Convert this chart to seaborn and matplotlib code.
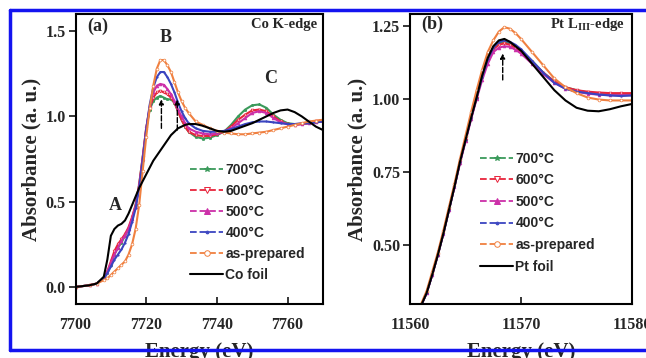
import matplotlib
matplotlib.use("Agg")
import matplotlib.pyplot as plt
import seaborn as sns
import pandas as pd
from matplotlib.lines import Line2D

sns.set_style("ticks")
plt.rcParams["font.family"] = ["Liberation Serif", "DejaVu Serif"]
plt.rcParams["font.weight"] = "bold"
plt.rcParams["mathtext.fontset"] = "custom"
plt.rcParams["mathtext.rm"] = "Liberation Serif:bold"
plt.rcParams["mathtext.bf"] = "Liberation Serif:bold"

# ---- panel (a): Co K-edge ----
co_energy = [7700, 7704, 7706, 7708, 7709, 7710, 7711, 7712, 7713, 7714, 7715, 7716,
             7717, 7718, 7719, 7720, 7721, 7722, 7723, 7724, 7725, 7726, 7727, 7728,
             7729, 7730, 7731, 7732, 7734, 7736, 7738, 7740, 7742, 7744, 7746, 7748,
             7750, 7752, 7754, 7756, 7758, 7760, 7762, 7764, 7766, 7768, 7770]
co_700 = [0.0, 0.01, 0.02, 0.05, 0.08, 0.13, 0.19, 0.23, 0.26, 0.30, 0.34, 0.40,
          0.48, 0.60, 0.76, 0.93, 1.04, 1.09, 1.11, 1.12, 1.11, 1.10, 1.10, 1.08,
          1.03, 0.98, 0.94, 0.91, 0.88, 0.87, 0.875, 0.89, 0.91, 0.95, 1.00, 1.04,
          1.065, 1.07, 1.05, 1.01, 0.98, 0.96, 0.955, 0.955, 0.96, 0.965, 0.97]
co_600 = [0.0, 0.01, 0.02, 0.05, 0.09, 0.15, 0.21, 0.25, 0.28, 0.31, 0.35, 0.41,
          0.48, 0.60, 0.76, 0.93, 1.05, 1.11, 1.14, 1.15, 1.14, 1.13, 1.11, 1.08,
          1.03, 0.98, 0.94, 0.91, 0.89, 0.885, 0.885, 0.895, 0.91, 0.94, 0.98, 1.01,
          1.035, 1.04, 1.03, 1.00, 0.97, 0.955, 0.95, 0.955, 0.96, 0.97, 0.98]
co_500 = [0.0, 0.01, 0.02, 0.05, 0.09, 0.14, 0.19, 0.23, 0.27, 0.30, 0.34, 0.40,
          0.47, 0.59, 0.75, 0.93, 1.06, 1.14, 1.18, 1.19, 1.185, 1.16, 1.13, 1.09,
          1.04, 1.00, 0.96, 0.93, 0.91, 0.90, 0.895, 0.90, 0.91, 0.93, 0.96, 0.99,
          1.02, 1.03, 1.02, 0.99, 0.965, 0.955, 0.95, 0.955, 0.96, 0.965, 0.97]
co_400 = [0.0, 0.01, 0.02, 0.05, 0.08, 0.12, 0.16, 0.19, 0.22, 0.26, 0.31, 0.38,
          0.46, 0.58, 0.74, 0.92, 1.07, 1.17, 1.23, 1.26, 1.26, 1.23, 1.19, 1.14,
          1.08, 1.03, 0.99, 0.96, 0.93, 0.915, 0.91, 0.91, 0.915, 0.925, 0.94, 0.955,
          0.965, 0.97, 0.97, 0.965, 0.96, 0.955, 0.955, 0.96, 0.96, 0.965, 0.97]
co_asprep = [0.0, 0.01, 0.02, 0.04, 0.05, 0.07, 0.09, 0.11, 0.13, 0.15, 0.19, 0.25,
             0.34, 0.48, 0.68, 0.88, 1.05, 1.18, 1.28, 1.33, 1.33, 1.30, 1.26, 1.20,
             1.14, 1.09, 1.05, 1.02, 0.97, 0.95, 0.93, 0.915, 0.905, 0.90, 0.895, 0.895,
             0.90, 0.905, 0.91, 0.92, 0.93, 0.94, 0.95, 0.96, 0.97, 0.975, 0.98]
co_foil = [0.0, 0.01, 0.02, 0.06, 0.16, 0.30, 0.34, 0.36, 0.37, 0.39, 0.43, 0.48,
           0.53, 0.58, 0.62, 0.66, 0.70, 0.74, 0.77, 0.80, 0.83, 0.86, 0.89, 0.91,
           0.93, 0.94, 0.95, 0.955, 0.955, 0.945, 0.93, 0.915, 0.91, 0.915, 0.93, 0.945,
           0.96, 0.98, 1.00, 1.02, 1.035, 1.04, 1.025, 1.00, 0.97, 0.94, 0.92]

# ---- panel (b): Pt L3-edge ----
pt_energy = [11561, 11561.5, 11562, 11562.5, 11563, 11563.5, 11564, 11564.5, 11565,
             11565.5, 11566, 11566.5, 11567, 11567.5, 11568, 11568.5, 11569, 11569.5,
             11570, 11571, 11572, 11573, 11574, 11575, 11576, 11577, 11578, 11579, 11580]
pt_700 = [0.295, 0.338, 0.40, 0.467, 0.54, 0.62, 0.70, 0.785, 0.86, 0.935, 1.005,
          1.075, 1.135, 1.175, 1.19, 1.195, 1.19, 1.18, 1.165, 1.13, 1.09, 1.06,
          1.04, 1.03, 1.022, 1.018, 1.015, 1.015, 1.015]
pt_600 = [0.295, 0.338, 0.40, 0.467, 0.54, 0.62, 0.70, 0.785, 0.86, 0.935, 1.005,
          1.075, 1.13, 1.17, 1.185, 1.19, 1.185, 1.175, 1.16, 1.125, 1.09, 1.06,
          1.04, 1.03, 1.025, 1.022, 1.02, 1.02, 1.02]
pt_500 = [0.295, 0.338, 0.40, 0.467, 0.54, 0.62, 0.70, 0.78, 0.855, 0.93, 1.0,
          1.065, 1.12, 1.16, 1.175, 1.18, 1.178, 1.168, 1.155, 1.12, 1.085, 1.055,
          1.035, 1.025, 1.018, 1.015, 1.013, 1.013, 1.013]
pt_400 = [0.295, 0.338, 0.40, 0.467, 0.54, 0.62, 0.70, 0.785, 0.86, 0.935, 1.005,
          1.075, 1.135, 1.175, 1.195, 1.20, 1.195, 1.185, 1.17, 1.13, 1.09, 1.055,
          1.035, 1.025, 1.02, 1.015, 1.012, 1.01, 1.012]
pt_asprep = [0.30, 0.345, 0.41, 0.475, 0.55, 0.63, 0.71, 0.795, 0.875, 0.955, 1.03,
             1.10, 1.16, 1.20, 1.23, 1.245, 1.24, 1.225, 1.205, 1.16, 1.115, 1.07,
             1.04, 1.02, 1.005, 0.998, 0.995, 0.995, 0.995]
pt_foil = [0.295, 0.338, 0.40, 0.467, 0.54, 0.62, 0.70, 0.785, 0.86, 0.935, 1.005,
           1.08, 1.14, 1.18, 1.20, 1.205, 1.195, 1.18, 1.165, 1.12, 1.075, 1.03,
           0.995, 0.97, 0.96, 0.958, 0.965, 0.975, 0.983]

labels = ["700°C", "600°C", "500°C", "400°C", "as-prepared"]
colors = ["#3a9a5a", "#e8243c", "#cc2fa8", "#3a44c0", "#f08040"]
markers = ["*", "v", "^", ".", "o"]
mfcs = [None, "white", None, None, "white"]

fig, (ax1, ax2) = plt.subplots(1, 2, figsize=(6.46, 3.58), dpi=100)
ax1.set_position([0.1169, 0.1508, 0.383, 0.81])
ax2.set_position([0.6347, 0.1508, 0.3437, 0.81])


def draw_panel(ax, energy, series, foil):
    for ys, lab, c, m, fc in zip(series, labels, colors, markers, mfcs):
        df = pd.DataFrame({"E": energy, "A": ys})
        sns.lineplot(data=df, x="E", y="A", ax=ax, color=c, lw=1.5, marker=m,
                     markersize=2, mfc=fc if fc else c, mec=c, mew=0.5,
                     sort=False, estimator=None, legend=False)
    df = pd.DataFrame({"E": energy, "A": foil})
    sns.lineplot(data=df, x="E", y="A", ax=ax, color="black", lw=1.5,
                 sort=False, estimator=None, legend=False)
    handles = [Line2D([], [], color=c, ls="--", lw=1.3, marker=m, markersize=4,
                      mfc=fc if fc else c, mec=c, mew=0.7)
               for c, m, fc in zip(colors, markers, mfcs)]
    handles.append(Line2D([], [], color="black", lw=1.5))
    return handles


h1 = draw_panel(ax1, co_energy, [co_700, co_600, co_500, co_400, co_asprep], co_foil)
h2 = draw_panel(ax2, pt_energy, [pt_700, pt_600, pt_500, pt_400, pt_asprep], pt_foil)

legend_font = {"family": "Liberation Sans", "weight": "bold", "size": 10}
ax1.legend(h1, labels + ["Co foil"], loc="upper left", bbox_to_anchor=(0.44, 0.505),
           frameon=False, prop=legend_font, handlelength=2.4, handletextpad=0.15,
           labelspacing=0.5, borderaxespad=0)
ax2.legend(h2, labels + ["Pt foil"], loc="upper left", bbox_to_anchor=(0.29, 0.545),
           frameon=False, prop=legend_font, handlelength=2.4, handletextpad=0.15,
           labelspacing=0.55, borderaxespad=0)

ax1.set_xlim(7700, 7770)
ax1.set_ylim(-0.1, 1.6)
ax1.set_xticks([7700, 7720, 7740, 7760])
ax1.set_yticks([0.0, 0.5, 1.0, 1.5])
ax1.set_yticklabels(["0.0", "0.5", "1.0", "1.5"])

ax2.set_xlim(11560, 11580)
ax2.set_ylim(0.30, 1.29)
ax2.set_xticks([11560, 11570, 11580])
ax2.set_yticks([0.50, 0.75, 1.00, 1.25])
ax2.set_yticklabels(["0.50", "0.75", "1.00", "1.25"])

for ax in (ax1, ax2):
    for s in ax.spines.values():
        s.set_visible(True)
        s.set_linewidth(1.5)
        s.set_color("black")
    ax.tick_params(axis="y", direction="out", length=5, width=1.3, labelsize=11.5, pad=2)
    ax.tick_params(axis="x", direction="in", length=5, width=1.3, labelsize=11.5, pad=9)
    for t in ax.get_xticklabels() + ax.get_yticklabels():
        t.set_fontweight("bold")
    ax.set_xlabel("Energy (eV)", fontsize=15, fontweight="bold", labelpad=7)
    ax.set_ylabel("Absorbance (a. u.)", fontsize=15, fontweight="bold", labelpad=3)

# annotations panel (a)
ax1.text(7703.2, 1.53, "(a)", fontsize=13, fontweight="bold", va="center")
ax1.text(0.975, 0.965, "Co K-edge", transform=ax1.transAxes, fontsize=10.5,
         fontweight="bold", ha="right", va="center")
ax1.text(7725.4, 1.465, "B", fontsize=13, fontweight="bold", ha="center", va="center")
ax1.text(7755.2, 1.22, "C", fontsize=13, fontweight="bold", ha="center", va="center")
ax1.text(7711.2, 0.48, "A", fontsize=13, fontweight="bold", ha="center", va="center")
for xa, y0 in [(7724.3, 0.93), (7728.8, 0.92)]:
    ax1.annotate("", xy=(xa, 1.10), xytext=(xa, y0),
                 arrowprops=dict(arrowstyle="-|>", color="black", lw=1.0, ls="--",
                                 mutation_scale=7, shrinkA=0, shrinkB=0))

# annotations panel (b)
ax2.text(0.05, 0.965, "(b)", transform=ax2.transAxes, fontsize=13,
         fontweight="bold", va="center")
ax2.text(0.965, 0.965, r"Pt L$_{\mathrm{III}}$-edge", transform=ax2.transAxes,
         fontsize=10.5, fontweight="bold", ha="right", va="center")
ax2.annotate("", xy=(11568.35, 1.155), xytext=(11568.35, 1.065),
             arrowprops=dict(arrowstyle="-|>", color="black", lw=1.0, ls="--",
                             mutation_scale=7, shrinkA=0, shrinkB=0))

# blue frame around the figure
W, H = 646, 358
blue = "#1414f0"
fig.add_artist(Line2D([10 / W, 10 / W], [1 - 10 / H, 1 - 350 / H], color=blue, lw=2.5,
                      transform=fig.transFigure))
fig.add_artist(Line2D([10 / W, 1], [1 - 10 / H, 1 - 10 / H], color=blue, lw=2.5,
                      transform=fig.transFigure))
fig.add_artist(Line2D([10 / W, 1], [1 - 350 / H, 1 - 350 / H], color=blue, lw=2.5,
                      transform=fig.transFigure))

fig.savefig("out.png", dpi=100)
